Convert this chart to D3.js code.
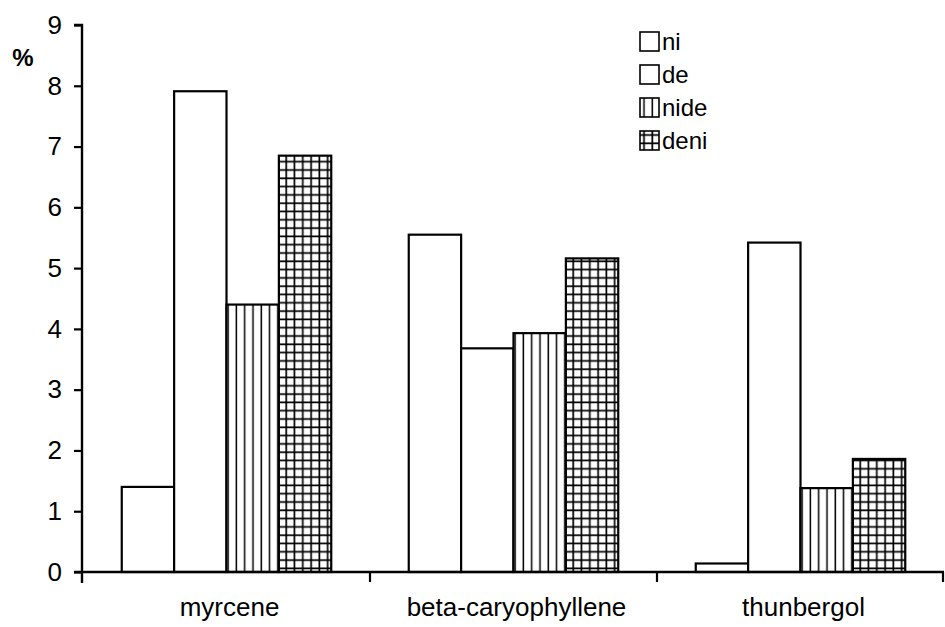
<!DOCTYPE html>
<html>
<head>
<meta charset="utf-8">
<script src="https://cdn.jsdelivr.net/npm/d3@7"></script>
<style>
  body { margin: 0; background: #fff; }
  svg { font-family: "Liberation Sans", Arial, sans-serif; }
</style>
</head>
<body>
<script>
const categories = ['myrcene', 'beta-caryophyllene', 'thunbergol'];
const seriesNames = ['ni', 'de', 'nide', 'deni'];
const ni = [1.40, 5.55, 0.14];
const de = [7.91, 3.68, 5.42];
const nide = [4.40, 3.93, 1.38];
const deni = [6.85, 5.16, 1.86];
const yTicks = [0, 1, 2, 3, 4, 5, 6, 7, 8, 9];

const values = { ni, de, nide, deni };

const width = 945, height = 627;
const axisX = 82, x0Left = 83, x0Right = 944, yBottom = 572, yTop = 25;

const svg = d3.select('body').append('svg')
  .attr('width', width)
  .attr('height', height);

const defs = svg.append('defs');
// vertical stripes for "nide"
const pv = defs.append('pattern')
  .attr('id', 'vstripe')
  .attr('patternUnits', 'userSpaceOnUse')
  .attr('width', 8.3).attr('height', 8.3);
pv.append('rect').attr('width', 8.3).attr('height', 8.3).attr('fill', '#fff');
pv.append('line').attr('x1', 4).attr('x2', 4).attr('y1', 0).attr('y2', 8.3)
  .attr('stroke', '#000').attr('stroke-width', 1.5);
// grid for "deni"
const pg = defs.append('pattern')
  .attr('id', 'grid')
  .attr('patternUnits', 'userSpaceOnUse')
  .attr('width', 8.3).attr('height', 8.3);
pg.append('rect').attr('width', 8.3).attr('height', 8.3).attr('fill', '#fff');
pg.append('line').attr('x1', 4).attr('x2', 4).attr('y1', 0).attr('y2', 8.3)
  .attr('stroke', '#000').attr('stroke-width', 1.7);
pg.append('line').attr('y1', 4).attr('y2', 4).attr('x1', 0).attr('x2', 8.3)
  .attr('stroke', '#000').attr('stroke-width', 1.7);

const fills = { ni: '#fff', de: '#fff', nide: 'url(#vstripe)', deni: 'url(#grid)' };

const x0 = d3.scaleBand()
  .domain(categories)
  .range([x0Left, x0Right])
  .padding(0);

const x1 = d3.scaleBand()
  .domain(seriesNames)
  .range([0, x0.bandwidth()])
  .paddingInner(0)
  .paddingOuter(0.74);

const y = d3.scaleLinear()
  .domain([0, 9])
  .range([yBottom, yTop]);

// bars
const groups = svg.append('g')
  .selectAll('g')
  .data(categories)
  .enter()
  .append('g')
  .attr('transform', (d) => `translate(${x0(d)}, 0)`);

groups.selectAll('rect')
  .data((c, i) => seriesNames.map((s) => ({ key: s, value: values[s][i] })))
  .enter()
  .append('rect')
  .attr('x', (d) => x1(d.key))
  .attr('y', (d) => y(d.value))
  .attr('width', x1.bandwidth())
  .attr('height', (d) => yBottom - y(d.value))
  .attr('fill', (d) => fills[d.key])
  .attr('stroke', '#000')
  .attr('stroke-width', 2.2);

// y axis
const yAxis = d3.axisLeft(y)
  .tickValues(yTicks)
  .tickSize(8)
  .tickPadding(12);

const gy = svg.append('g')
  .attr('transform', `translate(${axisX}, 0)`)
  .call(yAxis);
gy.select('.domain').attr('stroke-width', 2.4).attr('d', `M-8,${yTop}H0V${yBottom + 11}`);
gy.selectAll('.tick line').attr('stroke-width', 2.2);
gy.selectAll('.tick text')
  .attr('font-size', 26)
  .attr('fill', '#000')
  .attr('font-family', '"Liberation Sans", Arial, sans-serif');

// x axis
const bounds = categories.slice(1).map((c) => x0(c)).concat([x0Right - 1]);
const gx = svg.append('g');
gx.append('line')
  .attr('x1', axisX - 8).attr('x2', x0Right)
  .attr('y1', yBottom).attr('y2', yBottom)
  .attr('stroke', '#000').attr('stroke-width', 2.4);
gx.selectAll('line.tk')
  .data(bounds)
  .enter()
  .append('line')
  .attr('class', 'tk')
  .attr('x1', (d) => d).attr('x2', (d) => d)
  .attr('y1', yBottom).attr('y2', yBottom + 10)
  .attr('stroke', '#000').attr('stroke-width', 2.2);
gx.selectAll('text')
  .data(categories)
  .enter()
  .append('text')
  .attr('x', (d) => x0(d) + x0.bandwidth() / 2 + 3)
  .attr('y', yBottom + 44)
  .attr('text-anchor', 'middle')
  .attr('font-size', 26)
  .text((d) => d);

// y label
svg.append('text')
  .attr('x', 23)
  .attr('y', 66)
  .attr('text-anchor', 'middle')
  .attr('font-size', 24)
  .attr('font-weight', 'bold')
  .text('%');

// legend
const legend = svg.append('g')
  .attr('transform', 'translate(640, 32)');
const item = legend.selectAll('g')
  .data(seriesNames)
  .enter()
  .append('g')
  .attr('transform', (d, i) => `translate(0, ${i * 33})`);
item.append('rect')
  .attr('width', 19).attr('height', 19)
  .attr('fill', (d) => fills[d])
  .attr('stroke', '#000').attr('stroke-width', 1.6);
item.append('text')
  .attr('x', 22)
  .attr('y', 18)
  .attr('font-size', 24)
  .text((d) => d);
</script>
</body>
</html>
